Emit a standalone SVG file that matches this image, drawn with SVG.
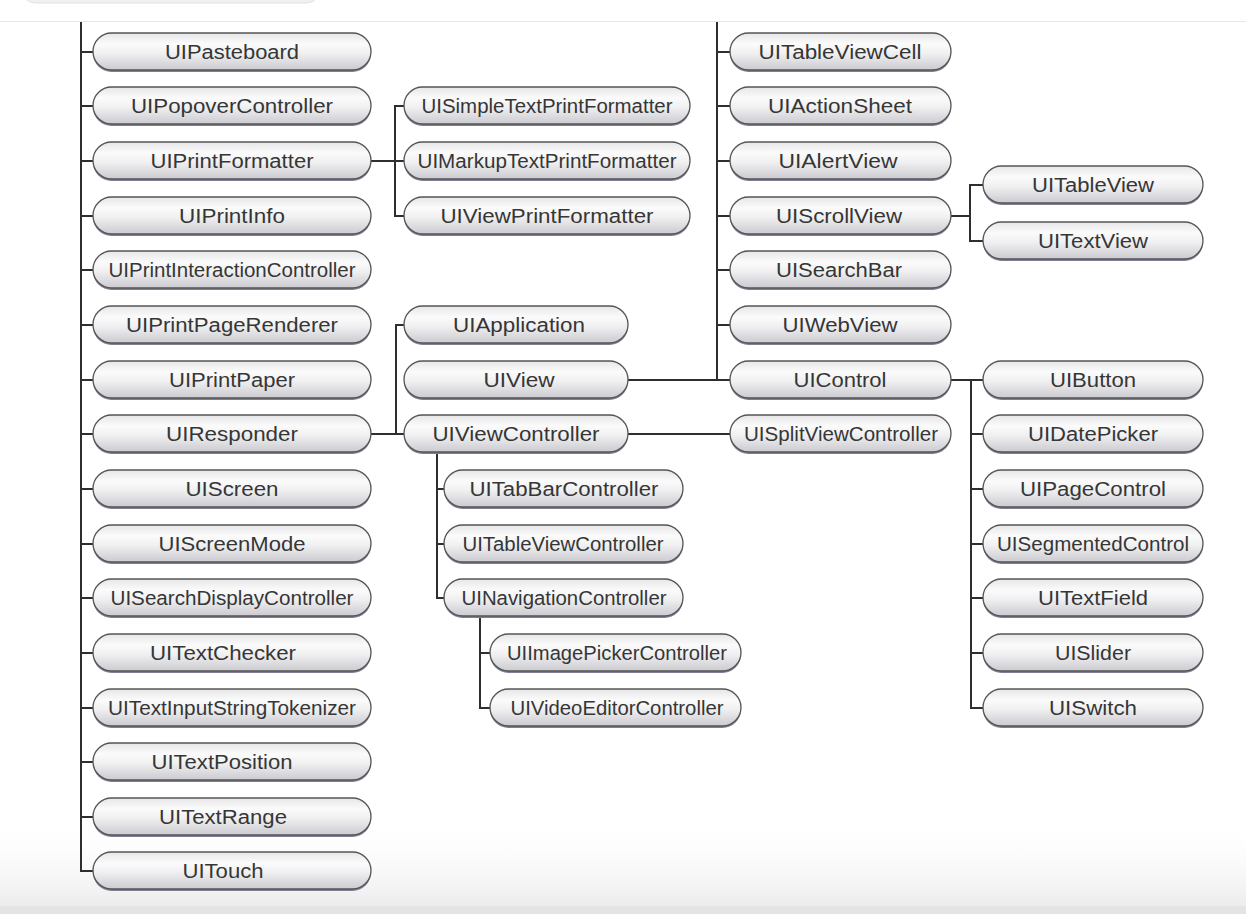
<svg xmlns="http://www.w3.org/2000/svg" width="1246" height="914" viewBox="0 0 1246 914">
<style>
.sh{fill:#7e7e96;stroke:none}
.pill{fill:url(#g);stroke:#555555;stroke-width:1.3}
.t{font-family:"Liberation Sans",Arial,sans-serif;font-size:20px;fill:#363636;text-anchor:middle}
.c{fill:none;stroke:#2e2e2e;stroke-width:2}
</style>
<defs>
<linearGradient id="g" x1="0" y1="0" x2="0" y2="1">
<stop offset="0" stop-color="#e6e6e8"/>
<stop offset="0.3" stop-color="#fbfbfb"/>
<stop offset="0.55" stop-color="#f0f0f2"/>
<stop offset="1" stop-color="#cbcbd0"/>
</linearGradient>
<linearGradient id="bg" x1="0" y1="0" x2="0" y2="1">
<stop offset="0" stop-color="#ffffff" stop-opacity="0"/>
<stop offset="1" stop-color="#ececec"/>
</linearGradient>
</defs>
<rect width="1246" height="914" fill="#ffffff"/>
<rect x="0" y="820" width="1246" height="86" fill="url(#bg)"/>
<rect x="0" y="906" width="1246" height="8" fill="#e4e4e4"/>
<rect x="20" y="-30" width="302" height="33" rx="16" fill="#f1f1f1" stroke="#e0e0e0"/>
<line x1="0" y1="21.5" x2="1246" y2="21.5" stroke="#e6e6e6" stroke-width="1"/>

<g id="connectors">
<path class="c" d="M81 22 V871 H93 M81 52 H93 M81 106 H93 M81 161 H93 M81 216 H93 M81 270 H93 M81 325 H93 M81 380 H93 M81 434 H93 M81 489 H93 M81 544 H93 M81 598 H93 M81 653 H93 M81 708 H93 M81 762 H93 M81 817 H93"/>
<path class="c" d="M371 161 H404 M404 106 H395 V216 H404"/>
<path class="c" d="M371 434 H404 M404 325 H396 V434"/>
<path class="c" d="M628 380 H730 M717 22 V380 M717 52 H730 M717 106 H730 M717 161 H730 M717 216 H730 M717 270 H730 M717 325 H730"/>
<path class="c" d="M628 434 H730"/>
<path class="c" d="M437 453 V598 H444 M437 489 H444 M437 544 H444"/>
<path class="c" d="M480 617 V708 H490 M480 653 H490"/>
<path class="c" d="M951 216 H970 M983 185 H970 V241 H983"/>
<path class="c" d="M951 380 H983 M971 380 V708 H983 M971 434 H983 M971 489 H983 M971 544 H983 M971 598 H983 M971 653 H983"/>
</g>

<g id="n-UIPasteboard"><rect class="sh" x="93" y="35" width="278" height="37" rx="18.5"/><rect class="pill" x="93" y="33" width="278" height="37" rx="18.5"/><text class="t" x="232" y="59" textLength="134" lengthAdjust="spacingAndGlyphs">UIPasteboard</text></g>
<g id="n-UIPopoverController"><rect class="sh" x="93" y="89" width="278" height="37" rx="18.5"/><rect class="pill" x="93" y="87" width="278" height="37" rx="18.5"/><text class="t" x="232" y="113" textLength="202" lengthAdjust="spacingAndGlyphs">UIPopoverController</text></g>
<g id="n-UIPrintFormatter"><rect class="sh" x="93" y="144" width="278" height="37" rx="18.5"/><rect class="pill" x="93" y="142" width="278" height="37" rx="18.5"/><text class="t" x="232" y="168" textLength="163" lengthAdjust="spacingAndGlyphs">UIPrintFormatter</text></g>
<g id="n-UIPrintInfo"><rect class="sh" x="93" y="199" width="278" height="37" rx="18.5"/><rect class="pill" x="93" y="197" width="278" height="37" rx="18.5"/><text class="t" x="232" y="223" textLength="106" lengthAdjust="spacingAndGlyphs">UIPrintInfo</text></g>
<g id="n-UIPrintInteractionController"><rect class="sh" x="93" y="253" width="278" height="37" rx="18.5"/><rect class="pill" x="93" y="251" width="278" height="37" rx="18.5"/><text class="t" x="232" y="277" textLength="247" lengthAdjust="spacingAndGlyphs">UIPrintInteractionController</text></g>
<g id="n-UIPrintPageRenderer"><rect class="sh" x="93" y="308" width="278" height="37" rx="18.5"/><rect class="pill" x="93" y="306" width="278" height="37" rx="18.5"/><text class="t" x="232" y="332" textLength="212" lengthAdjust="spacingAndGlyphs">UIPrintPageRenderer</text></g>
<g id="n-UIPrintPaper"><rect class="sh" x="93" y="363" width="278" height="37" rx="18.5"/><rect class="pill" x="93" y="361" width="278" height="37" rx="18.5"/><text class="t" x="232" y="387" textLength="126" lengthAdjust="spacingAndGlyphs">UIPrintPaper</text></g>
<g id="n-UIResponder"><rect class="sh" x="93" y="417" width="278" height="37" rx="18.5"/><rect class="pill" x="93" y="415" width="278" height="37" rx="18.5"/><text class="t" x="232" y="441" textLength="132" lengthAdjust="spacingAndGlyphs">UIResponder</text></g>
<g id="n-UIScreen"><rect class="sh" x="93" y="472" width="278" height="37" rx="18.5"/><rect class="pill" x="93" y="470" width="278" height="37" rx="18.5"/><text class="t" x="232" y="496" textLength="93" lengthAdjust="spacingAndGlyphs">UIScreen</text></g>
<g id="n-UIScreenMode"><rect class="sh" x="93" y="527" width="278" height="37" rx="18.5"/><rect class="pill" x="93" y="525" width="278" height="37" rx="18.5"/><text class="t" x="232" y="551" textLength="147" lengthAdjust="spacingAndGlyphs">UIScreenMode</text></g>
<g id="n-UISearchDisplayController"><rect class="sh" x="93" y="581" width="278" height="37" rx="18.5"/><rect class="pill" x="93" y="579" width="278" height="37" rx="18.5"/><text class="t" x="232" y="605" textLength="243" lengthAdjust="spacingAndGlyphs">UISearchDisplayController</text></g>
<g id="n-UITextChecker"><rect class="sh" x="93" y="636" width="278" height="37" rx="18.5"/><rect class="pill" x="93" y="634" width="278" height="37" rx="18.5"/><text class="t" x="223" y="660" textLength="146" lengthAdjust="spacingAndGlyphs">UITextChecker</text></g>
<g id="n-UITextInputStringTokenizer"><rect class="sh" x="93" y="691" width="278" height="37" rx="18.5"/><rect class="pill" x="93" y="689" width="278" height="37" rx="18.5"/><text class="t" x="232" y="715" textLength="248" lengthAdjust="spacingAndGlyphs">UITextInputStringTokenizer</text></g>
<g id="n-UITextPosition"><rect class="sh" x="93" y="745" width="278" height="37" rx="18.5"/><rect class="pill" x="93" y="743" width="278" height="37" rx="18.5"/><text class="t" x="222" y="769" textLength="141" lengthAdjust="spacingAndGlyphs">UITextPosition</text></g>
<g id="n-UITextRange"><rect class="sh" x="93" y="800" width="278" height="37" rx="18.5"/><rect class="pill" x="93" y="798" width="278" height="37" rx="18.5"/><text class="t" x="223" y="824" textLength="128" lengthAdjust="spacingAndGlyphs">UITextRange</text></g>
<g id="n-UITouch"><rect class="sh" x="93" y="854" width="278" height="37" rx="18.5"/><rect class="pill" x="93" y="852" width="278" height="37" rx="18.5"/><text class="t" x="223" y="878" textLength="81" lengthAdjust="spacingAndGlyphs">UITouch</text></g>

<g id="n-UISimpleTextPrintFormatter"><rect class="sh" x="404" y="89" width="286" height="37" rx="18.5"/><rect class="pill" x="404" y="87" width="286" height="37" rx="18.5"/><text class="t" x="547" y="113" textLength="251" lengthAdjust="spacingAndGlyphs">UISimpleTextPrintFormatter</text></g>
<g id="n-UIMarkupTextPrintFormatter"><rect class="sh" x="404" y="144" width="286" height="37" rx="18.5"/><rect class="pill" x="404" y="142" width="286" height="37" rx="18.5"/><text class="t" x="547" y="168" textLength="259" lengthAdjust="spacingAndGlyphs">UIMarkupTextPrintFormatter</text></g>
<g id="n-UIViewPrintFormatter"><rect class="sh" x="404" y="199" width="286" height="37" rx="18.5"/><rect class="pill" x="404" y="197" width="286" height="37" rx="18.5"/><text class="t" x="547" y="223" textLength="213" lengthAdjust="spacingAndGlyphs">UIViewPrintFormatter</text></g>

<g id="n-UIApplication"><rect class="sh" x="404" y="308" width="224" height="37" rx="18.5"/><rect class="pill" x="404" y="306" width="224" height="37" rx="18.5"/><text class="t" x="519" y="332" textLength="132" lengthAdjust="spacingAndGlyphs">UIApplication</text></g>
<g id="n-UIView"><rect class="sh" x="404" y="363" width="224" height="37" rx="18.5"/><rect class="pill" x="404" y="361" width="224" height="37" rx="18.5"/><text class="t" x="519" y="387" textLength="71" lengthAdjust="spacingAndGlyphs">UIView</text></g>
<g id="n-UIViewController"><rect class="sh" x="404" y="417" width="224" height="37" rx="18.5"/><rect class="pill" x="404" y="415" width="224" height="37" rx="18.5"/><text class="t" x="516" y="441" textLength="167" lengthAdjust="spacingAndGlyphs">UIViewController</text></g>

<g id="n-UITabBarController"><rect class="sh" x="444" y="472" width="239" height="37" rx="18.5"/><rect class="pill" x="444" y="470" width="239" height="37" rx="18.5"/><text class="t" x="564" y="496" textLength="189" lengthAdjust="spacingAndGlyphs">UITabBarController</text></g>
<g id="n-UITableViewController"><rect class="sh" x="444" y="527" width="239" height="37" rx="18.5"/><rect class="pill" x="444" y="525" width="239" height="37" rx="18.5"/><text class="t" x="563" y="551" textLength="201" lengthAdjust="spacingAndGlyphs">UITableViewController</text></g>
<g id="n-UINavigationController"><rect class="sh" x="444" y="581" width="239" height="37" rx="18.5"/><rect class="pill" x="444" y="579" width="239" height="37" rx="18.5"/><text class="t" x="564" y="605" textLength="205" lengthAdjust="spacingAndGlyphs">UINavigationController</text></g>

<g id="n-UIImagePickerController"><rect class="sh" x="490" y="636" width="251" height="37" rx="18.5"/><rect class="pill" x="490" y="634" width="251" height="37" rx="18.5"/><text class="t" x="617" y="660" textLength="220" lengthAdjust="spacingAndGlyphs">UIImagePickerController</text></g>
<g id="n-UIVideoEditorController"><rect class="sh" x="490" y="691" width="251" height="37" rx="18.5"/><rect class="pill" x="490" y="689" width="251" height="37" rx="18.5"/><text class="t" x="617" y="715" textLength="213" lengthAdjust="spacingAndGlyphs">UIVideoEditorController</text></g>

<g id="n-UITableViewCell"><rect class="sh" x="730" y="35" width="221" height="37" rx="18.5"/><rect class="pill" x="730" y="33" width="221" height="37" rx="18.5"/><text class="t" x="840" y="59" textLength="163" lengthAdjust="spacingAndGlyphs">UITableViewCell</text></g>
<g id="n-UIActionSheet"><rect class="sh" x="730" y="89" width="221" height="37" rx="18.5"/><rect class="pill" x="730" y="87" width="221" height="37" rx="18.5"/><text class="t" x="840" y="113" textLength="144" lengthAdjust="spacingAndGlyphs">UIActionSheet</text></g>
<g id="n-UIAlertView"><rect class="sh" x="730" y="144" width="221" height="37" rx="18.5"/><rect class="pill" x="730" y="142" width="221" height="37" rx="18.5"/><text class="t" x="838" y="168" textLength="119" lengthAdjust="spacingAndGlyphs">UIAlertView</text></g>
<g id="n-UIScrollView"><rect class="sh" x="730" y="199" width="221" height="37" rx="18.5"/><rect class="pill" x="730" y="197" width="221" height="37" rx="18.5"/><text class="t" x="839" y="223" textLength="126" lengthAdjust="spacingAndGlyphs">UIScrollView</text></g>
<g id="n-UISearchBar"><rect class="sh" x="730" y="253" width="221" height="37" rx="18.5"/><rect class="pill" x="730" y="251" width="221" height="37" rx="18.5"/><text class="t" x="839" y="277" textLength="126" lengthAdjust="spacingAndGlyphs">UISearchBar</text></g>
<g id="n-UIWebView"><rect class="sh" x="730" y="308" width="221" height="37" rx="18.5"/><rect class="pill" x="730" y="306" width="221" height="37" rx="18.5"/><text class="t" x="840" y="332" textLength="115" lengthAdjust="spacingAndGlyphs">UIWebView</text></g>
<g id="n-UIControl"><rect class="sh" x="730" y="363" width="221" height="37" rx="18.5"/><rect class="pill" x="730" y="361" width="221" height="37" rx="18.5"/><text class="t" x="840" y="387" textLength="93" lengthAdjust="spacingAndGlyphs">UIControl</text></g>
<g id="n-UISplitViewController"><rect class="sh" x="730" y="417" width="221" height="37" rx="18.5"/><rect class="pill" x="730" y="415" width="221" height="37" rx="18.5"/><text class="t" x="841" y="441" textLength="194" lengthAdjust="spacingAndGlyphs">UISplitViewController</text></g>

<g id="n-UITableView"><rect class="sh" x="983" y="168" width="220" height="37" rx="18.5"/><rect class="pill" x="983" y="166" width="220" height="37" rx="18.5"/><text class="t" x="1093" y="192" textLength="122" lengthAdjust="spacingAndGlyphs">UITableView</text></g>
<g id="n-UITextView"><rect class="sh" x="983" y="224" width="220" height="37" rx="18.5"/><rect class="pill" x="983" y="222" width="220" height="37" rx="18.5"/><text class="t" x="1093" y="248" textLength="110" lengthAdjust="spacingAndGlyphs">UITextView</text></g>

<g id="n-UIButton"><rect class="sh" x="983" y="363" width="220" height="37" rx="18.5"/><rect class="pill" x="983" y="361" width="220" height="37" rx="18.5"/><text class="t" x="1093" y="387" textLength="86" lengthAdjust="spacingAndGlyphs">UIButton</text></g>
<g id="n-UIDatePicker"><rect class="sh" x="983" y="417" width="220" height="37" rx="18.5"/><rect class="pill" x="983" y="415" width="220" height="37" rx="18.5"/><text class="t" x="1093" y="441" textLength="130" lengthAdjust="spacingAndGlyphs">UIDatePicker</text></g>
<g id="n-UIPageControl"><rect class="sh" x="983" y="472" width="220" height="37" rx="18.5"/><rect class="pill" x="983" y="470" width="220" height="37" rx="18.5"/><text class="t" x="1093" y="496" textLength="146" lengthAdjust="spacingAndGlyphs">UIPageControl</text></g>
<g id="n-UISegmentedControl"><rect class="sh" x="983" y="527" width="220" height="37" rx="18.5"/><rect class="pill" x="983" y="525" width="220" height="37" rx="18.5"/><text class="t" x="1093" y="551" textLength="192" lengthAdjust="spacingAndGlyphs">UISegmentedControl</text></g>
<g id="n-UITextField"><rect class="sh" x="983" y="581" width="220" height="37" rx="18.5"/><rect class="pill" x="983" y="579" width="220" height="37" rx="18.5"/><text class="t" x="1093" y="605" textLength="110" lengthAdjust="spacingAndGlyphs">UITextField</text></g>
<g id="n-UISlider"><rect class="sh" x="983" y="636" width="220" height="37" rx="18.5"/><rect class="pill" x="983" y="634" width="220" height="37" rx="18.5"/><text class="t" x="1093" y="660" textLength="76" lengthAdjust="spacingAndGlyphs">UISlider</text></g>
<g id="n-UISwitch"><rect class="sh" x="983" y="691" width="220" height="37" rx="18.5"/><rect class="pill" x="983" y="689" width="220" height="37" rx="18.5"/><text class="t" x="1093" y="715" textLength="88" lengthAdjust="spacingAndGlyphs">UISwitch</text></g>
</svg>
